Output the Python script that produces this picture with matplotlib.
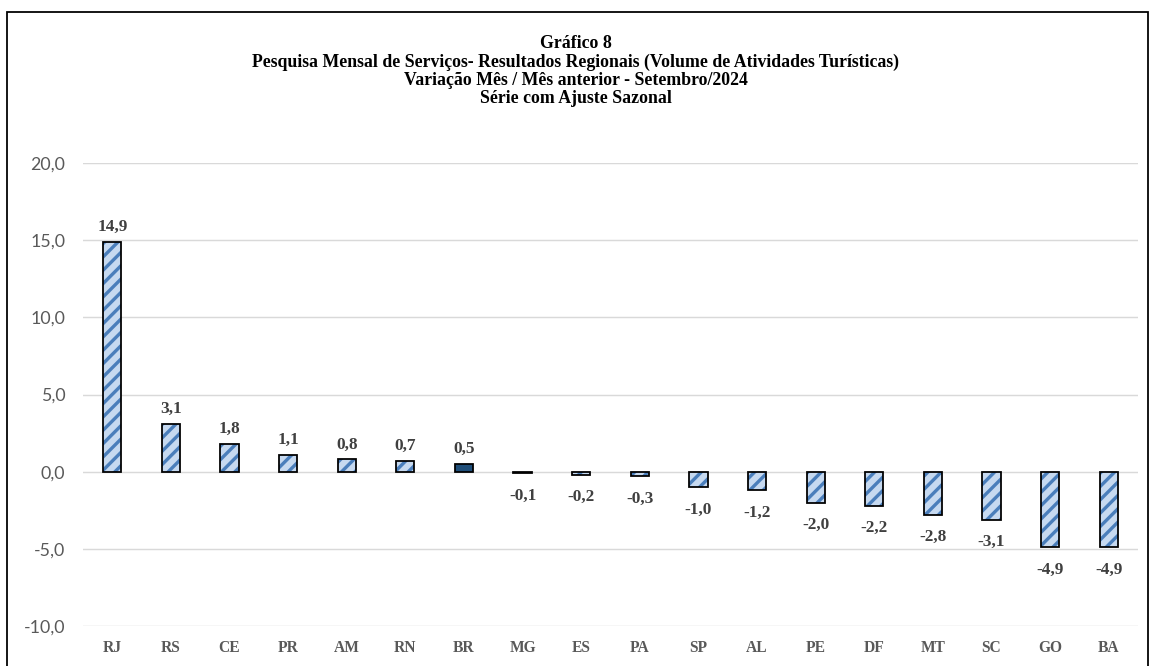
import numpy as np
import matplotlib
matplotlib.use("Agg")
import matplotlib.pyplot as plt
from matplotlib.patches import Rectangle

# data
ufs = ["RJ", "RS", "CE", "PR", "AM", "RN", "BR", "MG", "ES", "PA",
       "SP", "AL", "PE", "DF", "MT", "SC", "GO", "BA"]
valores = [14.9, 3.1, 1.8, 1.1, 0.8, 0.7, 0.5, -0.1, -0.2, -0.3,
           -1.0, -1.2, -2.0, -2.2, -2.8, -3.1, -4.9, -4.9]
yticks = [-10, -5, 0, 5, 10, 15, 20]
titulo = ("Gráfico 8\n"
          "Pesquisa Mensal de Serviços- Resultados Regionais (Volume de Atividades Turísticas)\n"
          "Variação Mês / Mês anterior - Setembro/2024\n"
          "Série com Ajuste Sazonal")

DPI = 80
W, H = 1152, 666
serif = ["Liberation Serif", "DejaVu Serif"]

plt.rcParams["hatch.linewidth"] = 3.0

fig = plt.figure(figsize=(W / DPI, H / DPI), dpi=DPI)
ax = fig.add_axes([83 / W, 1 - 626 / H, (1138 - 83) / W, (626 - 163) / H])

x = np.arange(len(ufs))
largura = 0.31
for i, (uf, v) in enumerate(zip(ufs, valores)):
    if uf == "BR":
        ax.bar(i, v, width=largura, color="#1f4e79", edgecolor="black",
               linewidth=1.6, zorder=3)
    else:
        ax.bar(i, v, width=largura, color="#c6d9f0", edgecolor="#4a7ebb",
               hatch="//", linewidth=0, zorder=3)
        ax.bar(i, v, width=largura, fill=False, edgecolor="black",
               linewidth=1.6, zorder=4)
    off = 6 if v >= 0 else -13
    ax.annotate(f"{v:.1f}".replace(".", ","), (i, v), xytext=(0, off),
                textcoords="offset points", ha="center",
                va="bottom" if v >= 0 else "top",
                fontsize=15.5, fontweight="bold", color="#404040", family=serif)

ax.set_xlim(-0.5, len(ufs) - 0.5)
ax.set_ylim(-10, 20)
ax.set_yticks(yticks)
ax.set_yticklabels([f"{t:.1f}".replace(".", ",") for t in yticks],
                   fontsize=16, color="#595959", family="Lato")
ax.set_xticks(x)
ax.set_xticklabels(ufs, fontsize=14, fontweight="bold", color="#595959",
                   family=serif)
ax.tick_params(axis="both", length=0)
ax.tick_params(axis="y", pad=16)
ax.tick_params(axis="x", pad=13)
ax.grid(axis="y", color="#d9d9d9", linewidth=1.3, zorder=0)
for s in ax.spines.values():
    s.set_visible(False)

fig.text(0.5, 1 - 35 / H, titulo, ha="center", va="top", fontsize=16,
         fontweight="bold", family=serif, color="black", linespacing=1.1)

fig.patches.append(Rectangle((7 / W, -0.1), (1148 - 7) / W, 1.1 - 12 / H,
                             transform=fig.transFigure, fill=False,
                             edgecolor="black", linewidth=1.6))

fig.savefig("out.png", dpi=DPI, facecolor="white")
